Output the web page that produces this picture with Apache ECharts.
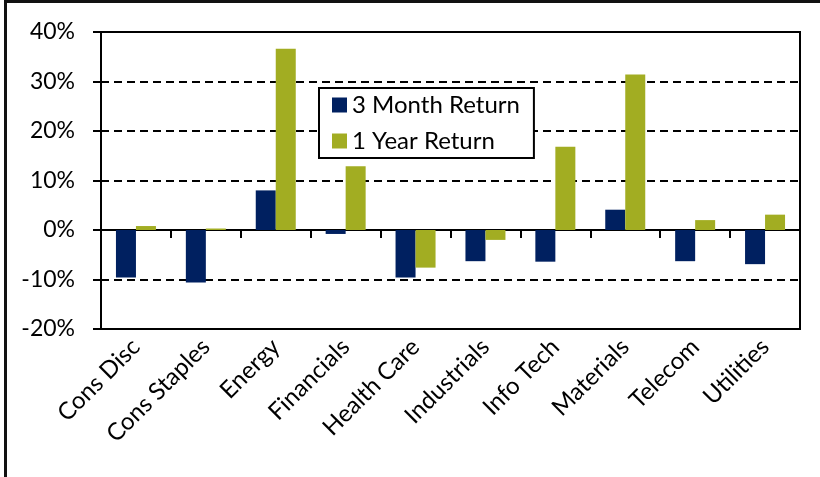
<!DOCTYPE html>
<html>
<head>
<meta charset="utf-8">
<script src="https://cdn.jsdelivr.net/npm/echarts@6/dist/echarts.min.js"></script>
<style>
  html, body { margin: 0; padding: 0; background: #fff; }
  #chart { width: 820px; height: 477px; }
</style>
</head>
<body>
<div id="chart"></div>
<script>
// sector names along the x axis
const sectors = ['Cons Disc', 'Cons Staples', 'Energy', 'Financials', 'Health Care',
  'Industrials', 'Info Tech', 'Materials', 'Telecom', 'Utilities']

// returns in percent
const threeMonth = [-9.6, -10.6, 8.0, -0.8, -9.6, -6.3, -6.4, 4.1, -6.3, -6.9]
const oneYear = [0.8, 0.3, 36.6, 12.9, -7.6, -2.0, 16.8, 31.4, 2.0, 3.1]

const seriesNames = ['3 Month Return', '1 Year Return']
const colors = ['#002060', '#a2ad22']

const font = 'Lato, "Open Sans", sans-serif'

const chart = echarts.init(document.getElementById('chart'))

const option = {
  animation: false,
  textStyle: { fontFamily: font },
  graphic: [
    {
      // outer frame, cut off on the right and bottom
      type: 'rect',
      shape: { x: 5.5, y: 1.5, width: 1000, height: 1000 },
      style: { fill: 'none', stroke: '#111', lineWidth: 3 },
      z: 100
    }
  ],
  grid: {
    left: 101,
    right: 20,
    top: 32,
    bottom: 148,
    show: true,
    borderColor: '#000',
    borderWidth: 2
  },
  legend: {
    orient: 'vertical',
    left: 319,
    top: 88,
    padding: [5, 14, 5, 13],
    itemWidth: 15,
    itemHeight: 15,
    itemGap: 12,
    icon: 'rect',
    backgroundColor: '#fff',
    borderColor: '#000',
    borderWidth: 2,
    borderRadius: 0,
    textStyle: { fontSize: 24, color: '#000', fontFamily: font },
    data: seriesNames
  },
  xAxis: [
    {
      // labels under the plot
      type: 'category',
      data: sectors,
      position: 'bottom',
      axisLine: { show: false, onZero: false },
      axisTick: { show: false },
      axisLabel: {
        rotate: 45,
        interval: 0,
        margin: 14,
        fontSize: 24,
        color: '#000',
        fontFamily: font
      }
    },
    {
      // zero line with ticks hanging down between categories
      type: 'category',
      data: sectors,
      position: 'top',
      axisLine: { show: true, onZero: true, lineStyle: { color: '#000', width: 2 } },
      axisTick: {
        show: true,
        inside: true,
        interval: 0,
        length: 8,
        lineStyle: { color: '#000', width: 2 }
      },
      axisLabel: { show: false, interval: 0 }
    }
  ],
  yAxis: {
    type: 'value',
    min: -20,
    max: 40,
    interval: 10,
    axisLine: { show: true, lineStyle: { color: '#000', width: 2 } },
    axisTick: { show: true, length: 8, lineStyle: { color: '#000', width: 2 } },
    axisLabel: {
      formatter: '{value}%',
      fontSize: 23,
      color: '#000',
      margin: 26,
      fontFamily: font
    },
    splitLine: {
      show: true,
      lineStyle: { color: '#000', type: [8, 5], width: 2 }
    }
  },
  series: [
    {
      name: seriesNames[0],
      type: 'bar',
      data: threeMonth,
      barWidth: 20,
      barGap: '0%',
      itemStyle: { color: colors[0] }
    },
    {
      name: seriesNames[1],
      type: 'bar',
      data: oneYear,
      barWidth: 20,
      barGap: '0%',
      itemStyle: { color: colors[1] }
    }
  ]
}

chart.setOption(option)
</script>
</body>
</html>
